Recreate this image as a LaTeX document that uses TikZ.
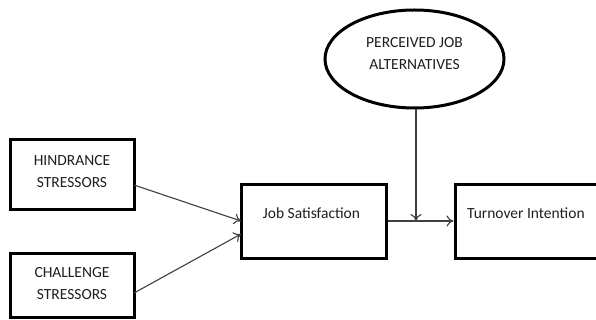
\documentclass[tikz,border=0pt]{standalone}
\usepackage{fontspec}
\setmainfont{Carlito}
\usetikzlibrary{shapes.geometric,arrows.meta}
\begin{document}
\begin{tikzpicture}[x=1pt,y=-1pt,
  box/.style={draw=black,line width=3pt,minimum width=124pt,minimum height=70pt,inner sep=0pt},
  oval/.style={draw=black,line width=3pt,ellipse,minimum width=179pt,minimum height=98pt,inner sep=0pt},
  txt/.style={font=\fontsize{15.5}{22}\selectfont,text=black!88,align=center,inner sep=0pt},
  conn/.style={draw=black!75,line width=1.1pt,-{To[length=7pt,width=11pt]}}]
\useasboundingbox[fill=white] (0,0) rectangle (596,320);
\node[box,minimum height=70pt] (hin) at (72,175) {};
\node[box,minimum height=64pt] (cha) at (72,285) {};
\node[box,minimum width=145pt,minimum height=73pt] (js) at (313.5,221.5) {};
\node[box,minimum width=150pt,minimum height=73pt] (ti) at (530,221.5) {};
\node[oval] (pja) at (414.5,59) {};
\node[txt] (thin) at (72,172) {HINDRANCE\\STRESSORS};
\node[txt] (tcha) at (72,283.5) {CHALLENGE\\STRESSORS};
\node[txt] (tjs) at (311.5,213) {Job Satisfaction};
\node[txt,anchor=west] (tti) at (467,213) {Turnover Intention};
\node[txt] (tpja) at (414.5,54) {PERCEIVED JOB\\ALTERNATIVES};
\coordinate (hinS) at (134,185);
\coordinate (chaS) at (134,293);
\coordinate (jsA) at (241,221);
\coordinate (jsB) at (241,234);
\coordinate (mid) at (416,221);
\draw[conn] (hinS) -- (jsA);
\draw[conn] (chaS) -- (jsB);
\draw[conn] (js.east |- mid) -- (ti.west |- mid);
\draw[conn] (pja.south -| mid) -- (mid);
\end{tikzpicture}
\end{document}
